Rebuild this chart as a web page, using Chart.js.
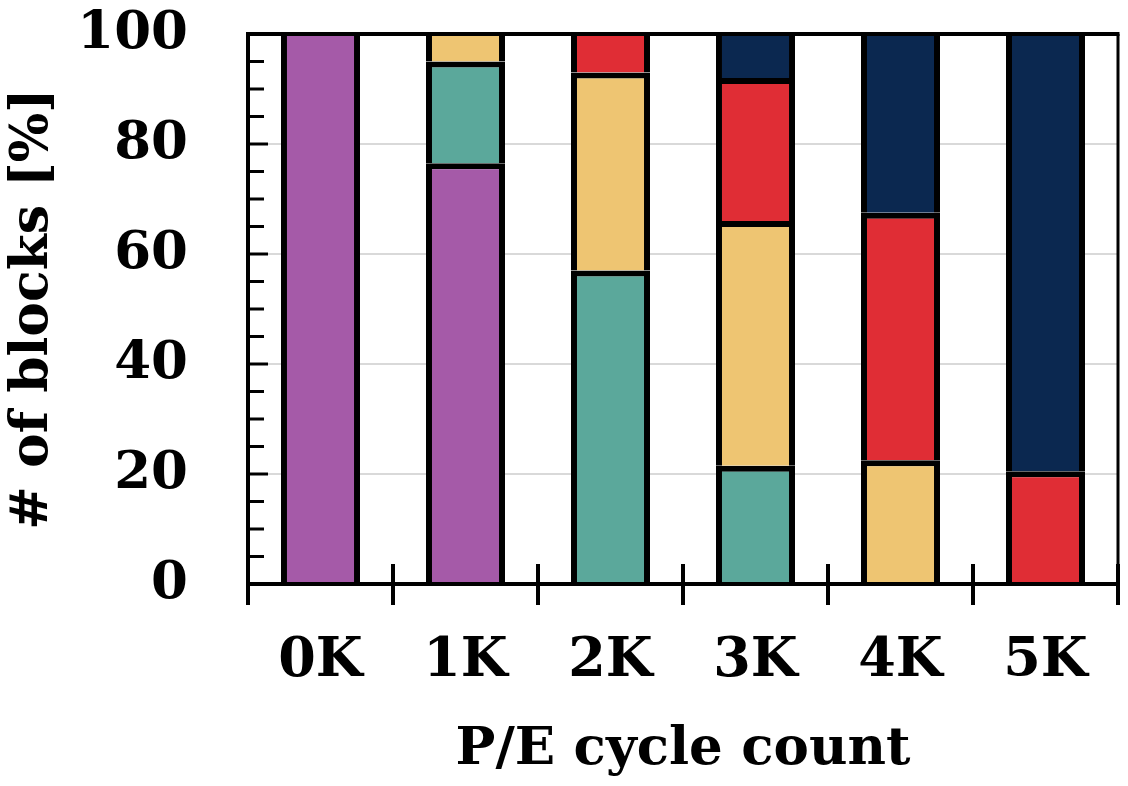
<!DOCTYPE html>
<html>
<head>
<meta charset="utf-8">
<script src="https://cdn.jsdelivr.net/npm/chart.js@4.4.0/dist/chart.umd.min.js"></script>
<style>
  html, body { margin: 0; padding: 0; background: #fff; }
  #wrap { width: 1128px; height: 786px; }
</style>
</head>
<body>
<div id="wrap"><canvas id="blocksChart"></canvas></div>
<script>
// P/E cycle buckets and share of blocks (%) per state
const cycles = ['0K', '1K', '2K', '3K', '4K', '5K'];
const purpleShare = [100, 76.5, null, null, null, null];
const tealShare = [null, 18.5, 57, 21.5, null, null];
const yellowShare = [null, 5, 36, 44.5, 22.5, null];
const redShare = [null, null, 7, 26, 45, 20.5];
const navyShare = [null, null, null, 8, 32.5, 79.5];
const yTicks = [0, 20, 40, 60, 80, 100];

const FONT = "'DejaVu Serif', 'Liberation Serif', serif";

// only the top edge of each segment gets a border, so stacked segments share one seam;
// the topmost segment sits under the frame line and needs less
function segmentBorder(c) {
    const i = c.dataIndex;
    const isTop = c.chart.data.datasets
        .slice(c.datasetIndex + 1)
        .every(d => d.data[i] == null);
    return { left: 6, right: 6, top: isTop ? 2 : 6, bottom: 0 };
}

function series(data, color) {
    return {
        data: data,
        backgroundColor: color,
        borderColor: '#000',
        borderWidth: segmentBorder,
        borderSkipped: false,
        inflateAmount: 0,
        barPercentage: 0.545,
        categoryPercentage: 1.0
    };
}

// axis decorations: frame, inner minor ticks, category separators
const frame = {
    id: 'frame',
    afterDraw(chart) {
        const { ctx, chartArea: a, scales: { x, y } } = chart;
        ctx.save();
        ctx.strokeStyle = '#000';
        ctx.lineCap = 'butt';

        ctx.lineWidth = 4;
        ctx.beginPath();
        ctx.moveTo(a.left - 2, a.top);
        ctx.lineTo(a.right + 1.5, a.top);
        ctx.stroke();

        ctx.lineWidth = 3;
        ctx.beginPath();
        ctx.moveTo(a.right, a.top);
        ctx.lineTo(a.right, a.bottom);
        ctx.stroke();

        for (let v = 5; v < 100; v += 5) {
            const py = y.getPixelForValue(v);
            const len = v % 20 === 0 ? 20 : 16;
            ctx.lineWidth = 3;
            ctx.beginPath();
            ctx.moveTo(a.left, py);
            ctx.lineTo(a.left + len, py);
            ctx.stroke();
        }

        ctx.lineWidth = 4;
        for (let i = 0; i <= cycles.length; i++) {
            const px = x.getPixelForValue(i - 0.5);
            ctx.beginPath();
            ctx.moveTo(px, i === 0 ? a.bottom : a.bottom - 20);
            ctx.lineTo(px, a.bottom + 21);
            ctx.stroke();
        }

        // x axis line again, over the bar bottoms
        ctx.lineWidth = 4;
        ctx.beginPath();
        ctx.moveTo(a.left, a.bottom);
        ctx.lineTo(a.right, a.bottom);
        ctx.stroke();
        ctx.restore();
    }
};

new Chart(document.getElementById('blocksChart'), {
    type: 'bar',
    data: {
        labels: cycles,
        datasets: [
            series(purpleShare, '#a55aa8'),
            series(tealShare, '#5ba89b'),
            series(yellowShare, '#eec572'),
            series(redShare, '#e02d35'),
            series(navyShare, '#0b2850')
        ]
    },
    options: {
        responsive: true,
        maintainAspectRatio: false,
        animation: false,
        layout: { padding: { top: 34, right: 10, left: 0, bottom: 0 } },
        plugins: { legend: { display: false }, tooltip: { enabled: false } },
        scales: {
            x: {
                stacked: true,
                grid: { display: false, drawTicks: false },
                border: { display: true, color: '#000', width: 4 },
                ticks: {
                    color: '#000',
                    font: { family: FONT, size: 54, weight: 'bold' },
                    padding: 46,
                    maxRotation: 0,
                    autoSkip: false
                },
                title: {
                    display: true,
                    text: 'P/E cycle count',
                    color: '#000',
                    font: { family: FONT, size: 53, weight: 'bold' },
                    padding: { top: 0, bottom: 4 }
                },
                afterFit(scale) {
                    scale.height = 202;
                    scale.paddingLeft = 0;
                    scale.paddingRight = 0;
                }
            },
            y: {
                stacked: true,
                min: 0,
                max: 100,
                afterBuildTicks(scale) { scale.ticks = yTicks.map(v => ({ value: v })); },
                grid: {
                    drawTicks: false,
                    lineWidth: 2,
                    color: c => (c.tick && c.tick.value > 0 && c.tick.value < 100) ? '#d9d9d9' : 'rgba(0,0,0,0)'
                },
                border: { display: true, color: '#000', width: 4 },
                ticks: {
                    color: '#000',
                    font: { family: FONT, size: 53, weight: 'bold' },
                    padding: 60
                },
                title: {
                    display: true,
                    text: '# of blocks [%]',
                    color: '#000',
                    font: { family: FONT, size: 52, weight: 'bold' },
                    padding: { top: 2, bottom: 0 }
                },
                afterFit(scale) {
                    scale.width = 248;
                    scale.paddingTop = 0;
                    scale.paddingBottom = 0;
                }
            }
        }
    },
    plugins: [frame]
});
</script>
</body>
</html>
